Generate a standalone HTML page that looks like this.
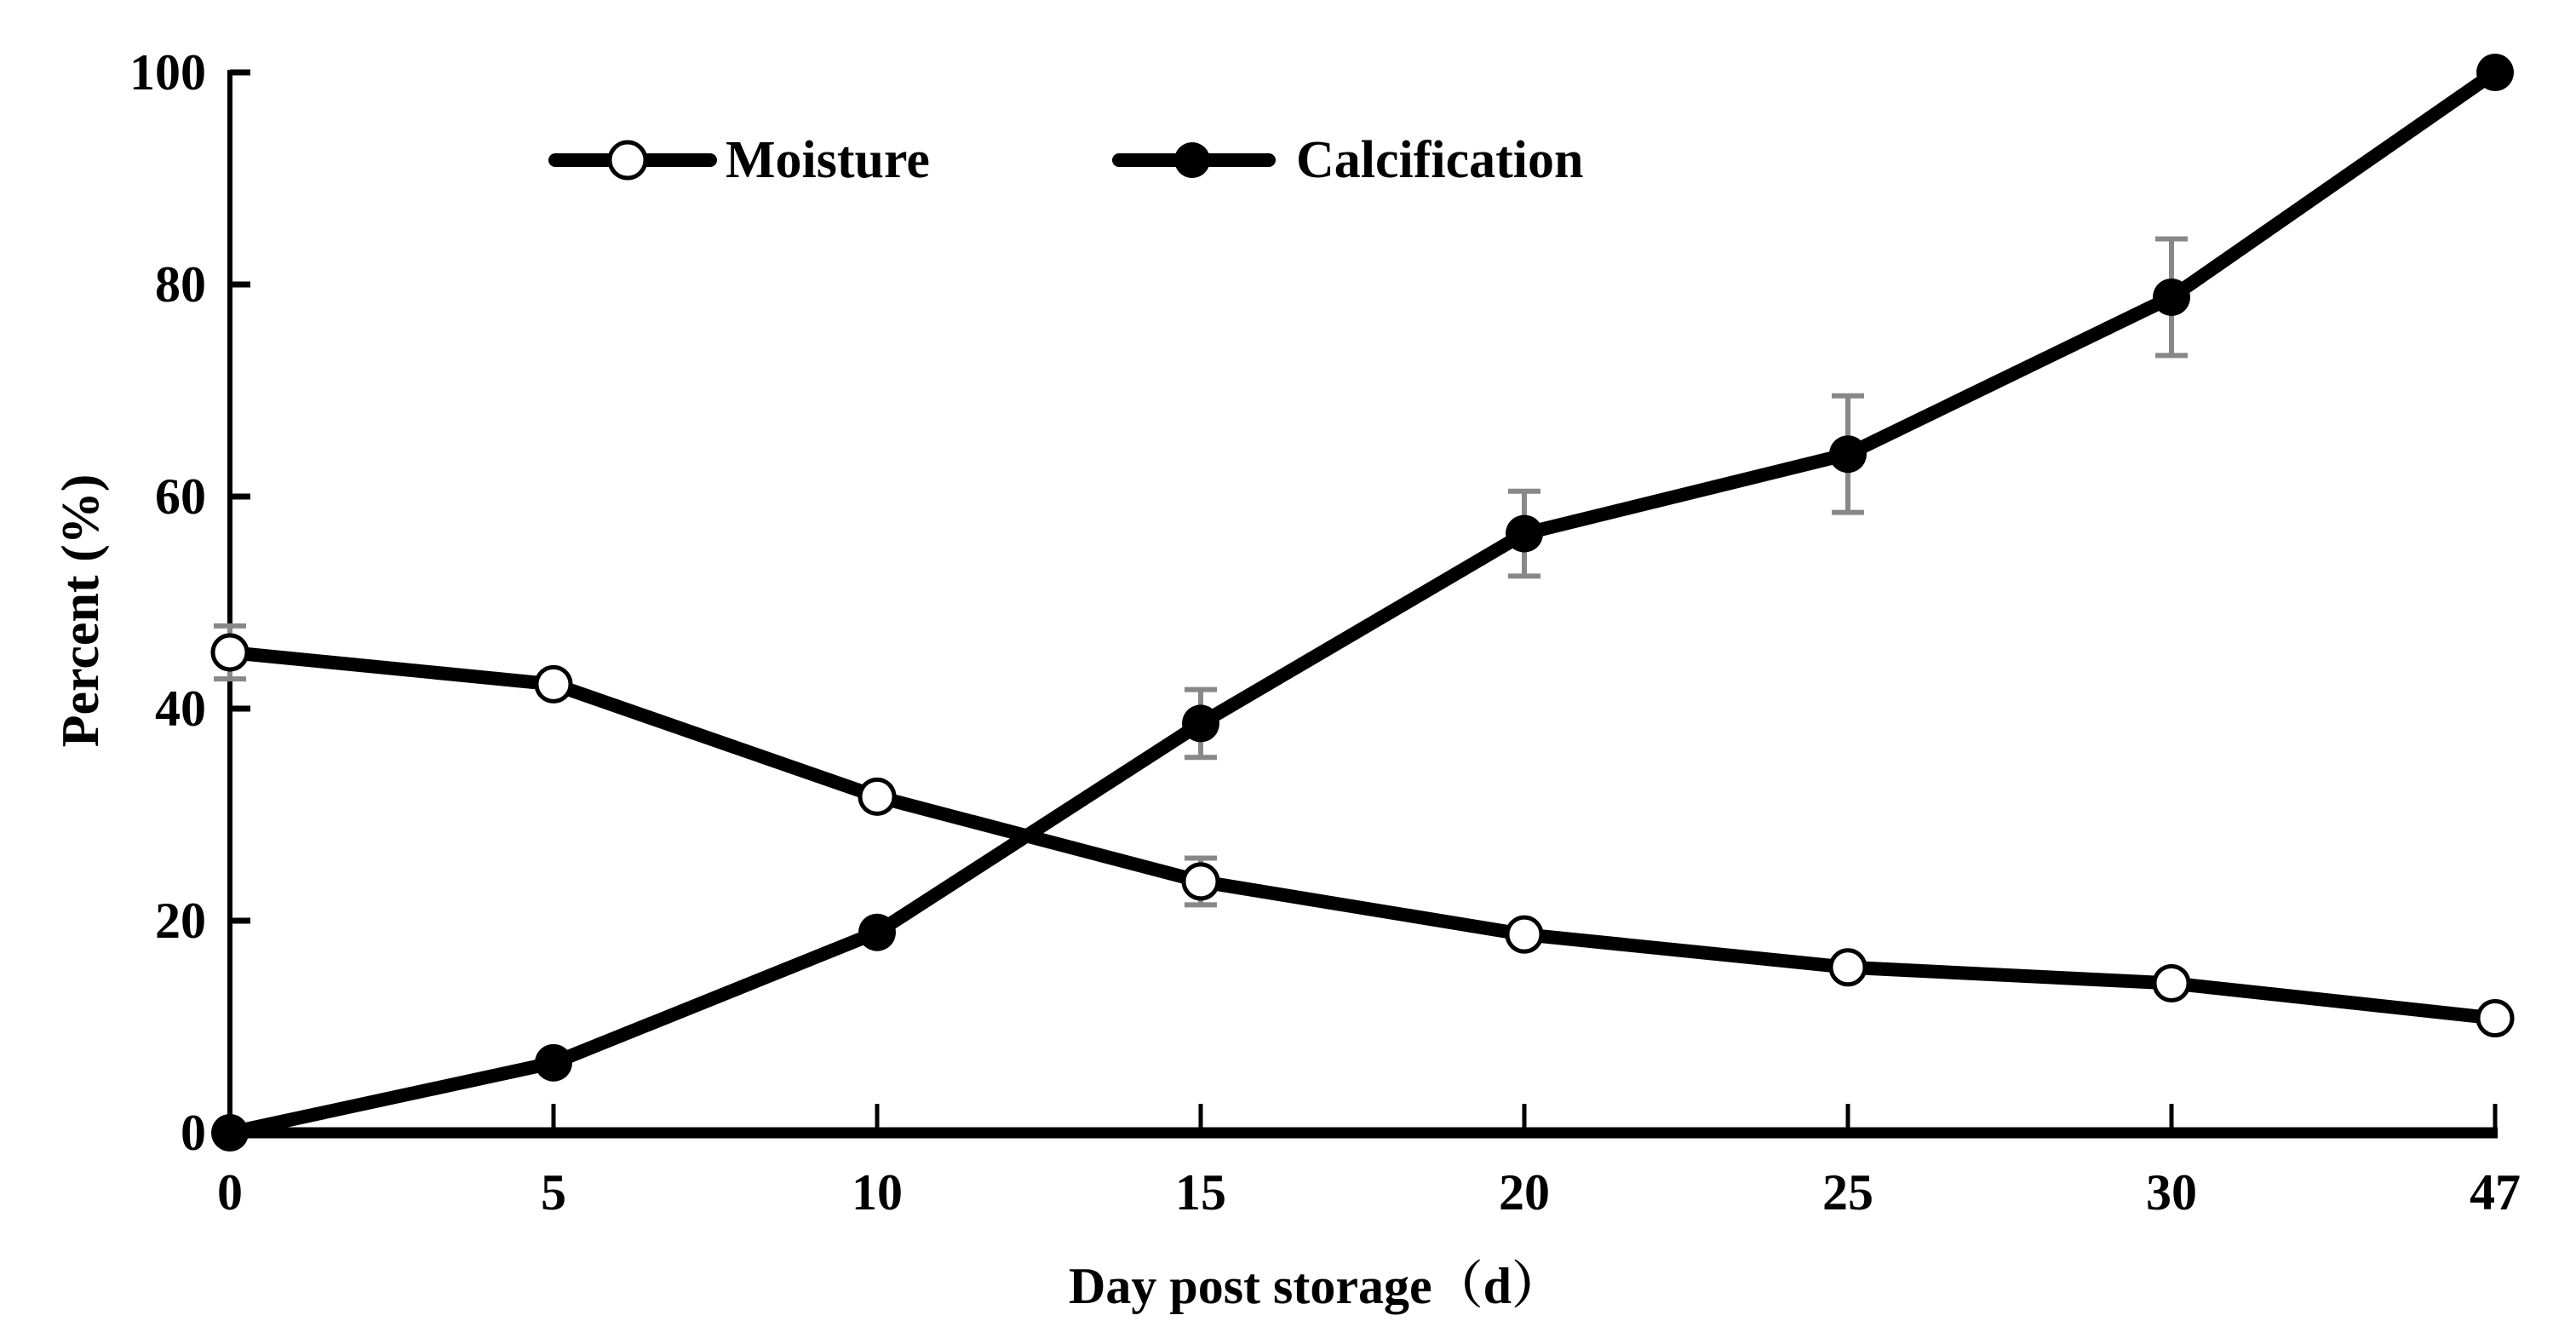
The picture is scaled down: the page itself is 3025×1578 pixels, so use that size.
<!DOCTYPE html>
<html><head><meta charset="utf-8"><style>
html,body{margin:0;padding:0;background:#fff;}
svg{display:block;}
text{font-family:"Liberation Serif","Noto Serif CJK SC",serif;font-weight:bold;fill:#000;}
</style></head><body>
<svg id="chart" width="3025" height="1578" viewBox="0 0 3025 1578">
<g id="axes"></g>
<g id="series"></g>
<g id="legend">
  <line x1="652" y1="188" x2="834" y2="188" stroke="#000" stroke-width="16" stroke-linecap="round"/>
  <circle cx="737" cy="188" r="21" fill="#fff" stroke="#000" stroke-width="5"/>
  <text x="852" y="208" font-size="62">Moisture</text>
  <line x1="1314" y1="188" x2="1490" y2="188" stroke="#000" stroke-width="16" stroke-linecap="round"/>
  <circle cx="1400" cy="188" r="21" fill="#000"/>
  <text x="1522" y="208" font-size="62">Calcification</text>
</g>
<text x="101" y="717" font-size="62" text-anchor="middle" dominant-baseline="middle" transform="rotate(-90 101 717)">Percent (%)</text>
<text x="1545" y="1530" font-size="60" text-anchor="middle">Day post storage（d）</text>
</svg>
<script>
const categories = ["0","5","10","15","20","25","30","47"];
const moisture = [45.3, 42.3, 31.7, 23.7, 18.7, 15.6, 14.1, 10.8];
const moistureErr = [2.5, 0, 0, 2.2, 0, 0, 0, 0];
const calcification = [0, 6.6, 18.9, 38.6, 56.5, 64.0, 78.8, 100];
const calcificationErr = [0, 0, 0, 3.2, 4.0, 5.5, 5.5, 0];
const yTicks = [0, 20, 40, 60, 80, 100];

const NS = "http://www.w3.org/2000/svg";
const X0 = 270, XSTEP = 380, Y0 = 1330, Y100 = 85;
function xPos(i){ return X0 + i*XSTEP; }
function yPos(v){ return Y0 - (v/100)*(Y0-Y100); }
function mk(tag, attrs, parent){ const e=document.createElementNS(NS,tag); for(const k in attrs) e.setAttribute(k,attrs[k]); parent.appendChild(e); return e; }

const axes = document.getElementById('axes');
const series = document.getElementById('series');
let e;
e = mk('line',{x1:X0,y1:Y100-3,x2:X0,y2:Y0,stroke:'#000','stroke-width':6},axes);


e = mk('line',{x1:X0,y1:Y0,x2:xPos(categories.length-1)+3,y2:Y0,stroke:'#000','stroke-width':13},axes);


yTicks.forEach(v=>{
  const y=yPos(v);
  let t = mk('line',{x1:X0,y1:y,x2:X0+24,y2:y,stroke:'#000','stroke-width':7},axes);
  
  
  let l = mk('text',{x:X0-28,y:y+20,'font-size':60,'text-anchor':'end'},axes);
  l.textContent=v;
  
  
});
categories.forEach((c,i)=>{
  const x=xPos(i);
  let t = mk('line',{x1:x,y1:Y0,x2:x,y2:Y0-34,stroke:'#000','stroke-width':5},axes);
  
  
  let l = mk('text',{x:x,y:Y0+90,'font-size':60,'text-anchor':'middle'},axes);
  l.textContent=c;
  
  
});
function drawSeries(vals, errs, fill, name){
  errs.forEach((er,i)=>{
    if(!er) return;
    const x=xPos(i), yt=yPos(vals[i]+er), yb=yPos(vals[i]-er);
    const g=mk('g',{stroke:'#888','stroke-width':6},series);
    
    
    mk('line',{x1:x,y1:yt,x2:x,y2:yb},g);
    mk('line',{x1:x-19,y1:yt,x2:x+19,y2:yt},g);
    mk('line',{x1:x-19,y1:yb,x2:x+19,y2:yb},g);
  });
  const pts=vals.map((v,i)=>xPos(i)+','+yPos(v)).join(' ');
  const pl=mk('polyline',{points:pts,fill:'none',stroke:'#000','stroke-width':16,'stroke-linejoin':'round'},series);
  
  
  vals.forEach((v,i)=>{
    const c=mk('circle',{cx:xPos(i),cy:yPos(v),r:fill==='#fff'?20:22,fill:fill,stroke:'#000','stroke-width':fill==='#fff'?5:0},series);
    
    
  });
}
drawSeries(moisture, moistureErr, '#fff', 'moisture');
drawSeries(calcification, calcificationErr, '#000', 'calcification');
</script>
</body></html>
